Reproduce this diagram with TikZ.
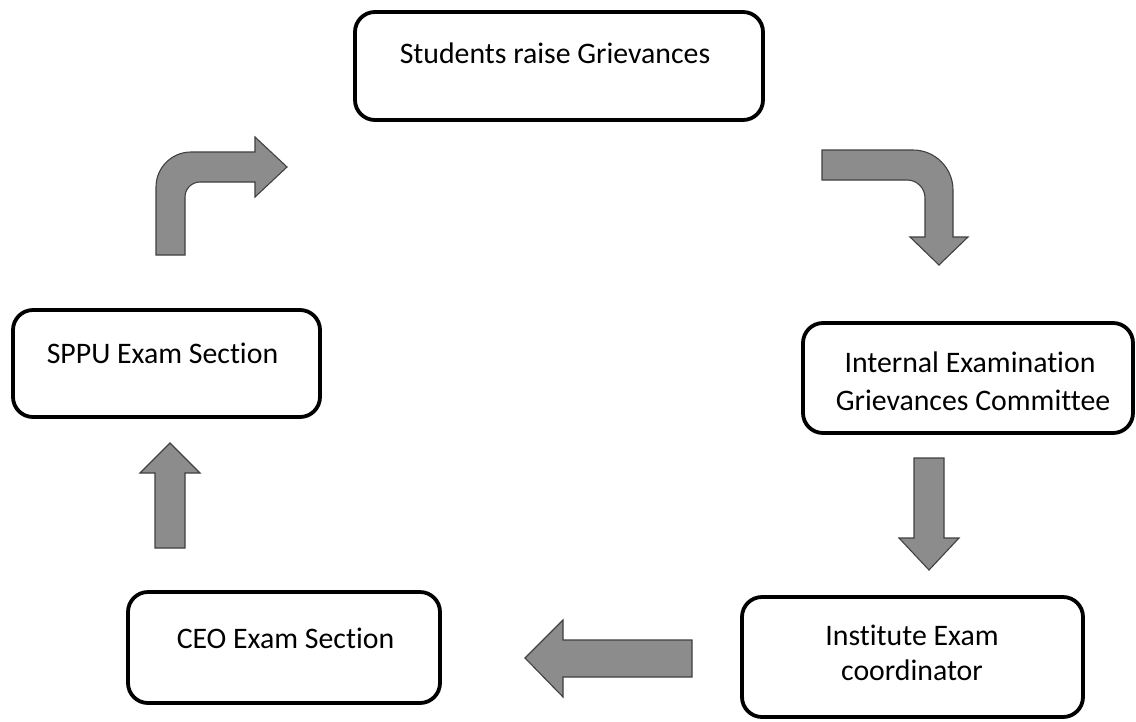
\documentclass[tikz,border=0pt]{standalone}
\usepackage{fontspec}
\setmainfont[Ligatures={NoCommon}]{Carlito}
\begin{document}
\begin{tikzpicture}[x=1pt,y=-1pt,
  box/.style={draw=black,line width=3.8pt,rounded corners=20pt,inner sep=0pt},
  lbl/.style={anchor=base,inner sep=0pt,font=\fontsize{29.8}{34}\selectfont},
  blk/.style={fill=black!45,draw=black!75,line width=1.1pt,line join=miter}]
\useasboundingbox (0,0) rectangle (1136,721);
\fill[white] (0,0) rectangle (1136,721);
% boxes
\node[box,minimum width=408pt,minimum height=108pt] (stu) at (559,66) {};
\node[box,minimum width=307pt,minimum height=107pt] (sppu) at (166.5,363.5) {};
\node[box,minimum width=330pt,minimum height=110pt] (ieg) at (968,378) {};
\node[box,minimum width=312pt,minimum height=111pt] (ceo) at (284,647.5) {};
\node[box,minimum width=341pt,minimum height=120pt] (iec) at (912.5,657) {};
% texts
\node[lbl] (tstu) at (555,63) {Students raise Grievances};
\node[lbl] (tsppu) at (162.5,363) {SPPU Exam Section};
\node[lbl] (tieg1) at (970,372) {Internal Examination};
\node[lbl] (tieg2) at (973,410) {Grievances Committee};
\node[lbl] (tceo) at (285.5,648) {CEO Exam Section};
\node[lbl] (tiec1) at (912,645) {Institute Exam};
\node[lbl] (tiec2) at (912,680) {coordinator};
% block arrow: SPPU -> Students (up then right)
\draw[blk] (156,255) -- (156,187) .. controls (156,167.7) and (171.7,152) .. (191,152)
  -- (255,152) -- (255,137) -- (287,167) -- (255,197) -- (255,182) -- (200,182)
  .. controls (191.7,182) and (185,188.7) .. (185,197) -- (185,255) -- cycle;
% block arrow: Students -> Internal (right then down)
\draw[blk] (822,150) -- (913,150) .. controls (935,150) and (953,168) .. (953,190)
  -- (953,237) -- (968,237) -- (939,265) -- (910,237) -- (925,237) -- (925,198)
  .. controls (925,188) and (917,180) .. (907,180) -- (822,180) -- cycle;
% down arrow: Internal -> Institute
\draw[blk] (914,458) -- (944,458) -- (944,538) -- (959,538) -- (929,570) -- (899,538)
  -- (914,538) -- cycle;
% left arrow: Institute -> CEO
\draw[blk] (692,640) -- (692,677) -- (563,677) -- (563,697) -- (525,658) -- (563,620)
  -- (563,640) -- cycle;
% up arrow: CEO -> SPPU
\draw[blk] (155,548) -- (155,473) -- (140,473) -- (170,443) -- (200,473) -- (185,473)
  -- (185,548) -- cycle;
\end{tikzpicture}
\end{document}
